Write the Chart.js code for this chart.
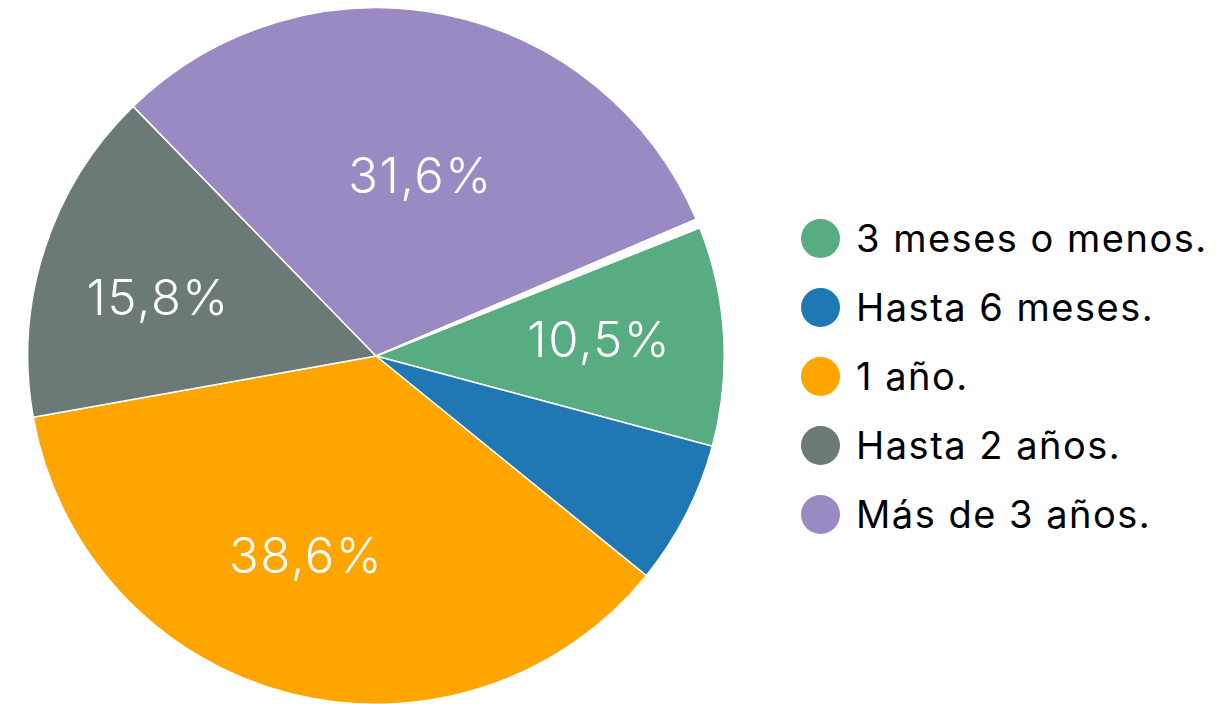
<!DOCTYPE html>
<html>
<head>
<meta charset="utf-8">
<script src="https://cdn.jsdelivr.net/npm/chart.js@4.4.1/dist/chart.umd.min.js"></script>
<style>
  html, body { margin: 0; padding: 0; background: #ffffff; }
  body { width: 1218px; height: 704px; position: relative; overflow: hidden; font-family: Inter, "Open Sans", sans-serif; }
  #wrap { position: absolute; left: 27px; top: 7px; width: 698px; height: 698px; }
  #legend { position: absolute; left: 801px; top: 0; margin: 0; padding: 0; list-style: none; }
  #legend li { position: absolute; left: 0; white-space: nowrap; display: flex; align-items: center; height: 40px; font-size: 38px; letter-spacing: 1.5px; color: #000; }
  #legend .dot { width: 39px; height: 39px; border-radius: 50%; display: inline-block; margin-right: 16px; flex: none; }
</style>
</head>
<body>
<div id="wrap"><canvas id="c"></canvas></div>
<ul id="legend"></ul>
<script>
// Categories shown in the legend
const categories = ['3 meses o menos.', 'Hasta 6 meses.', '1 año.', 'Hasta 2 años.', 'Más de 3 años.'];
// Slice shares (%) as measured from the slice angles in the picture
const sliceShares = [10.17, 6.69, 36.33, 15.53, 30.86];
// Thin empty wedge between the last and first slices (%)
const emptyShare = [0.42];
// Percentage texts printed on the slices
const sliceLabels = ['10,5%', '', '38,6%', '15,8%', '31,6%'];
const colors = ['#57ac81', '#1f77b4', '#ffa500', '#6c7a77', '#9a8ac3'];

const sliceTextPlugin = {
  id: 'sliceText',
  afterDatasetsDraw(chart, args, opts) {
    const ctx = chart.ctx;
    const meta = chart.getDatasetMeta(0);
    ctx.save();
    ctx.fillStyle = '#ffffff';
    ctx.font = '300 49px Inter, "Open Sans", sans-serif';
    if ('letterSpacing' in ctx) ctx.letterSpacing = '1.5px';
    ctx.textAlign = 'center';
    ctx.textBaseline = 'middle';
    meta.data.forEach((arc, i) => {
      const txt = sliceLabels[i];
      if (!txt) return;
      const p = arc.getProps(['x', 'y', 'startAngle', 'endAngle', 'outerRadius'], true);
      const mid = (p.startAngle + p.endAngle) / 2 + (opts.angleShift[i] || 0) * Math.PI / 180;
      const r = p.outerRadius * opts.radial[i];
      ctx.fillText(txt, p.x + Math.cos(mid) * r + 1, p.y + Math.sin(mid) * r + 2);
    });
    ctx.restore();
  }
};

new Chart(document.getElementById('c'), {
  type: 'pie',
  data: {
    labels: categories.concat(['']),
    datasets: [{
      data: sliceShares.concat(emptyShare),
      backgroundColor: colors.concat(['#ffffff']),
      borderColor: '#ffffff',
      borderWidth: 1.5
    }]
  },
  options: {
    responsive: true,
    maintainAspectRatio: false,
    animation: false,
    rotation: 68.4,
    layout: { padding: 0 },
    plugins: {
      legend: { display: false },
      tooltip: { enabled: false },
      sliceText: { radial: [0.64, 0.6, 0.61, 0.65, 0.53], angleShift: [-0.8, 0, 5, -3, 2.3] }
    }
  },
  plugins: [sliceTextPlugin]
});

const legend = document.getElementById('legend');
const rowTops = [218, 287, 356, 425, 494];
categories.forEach((name, i) => {
  const li = document.createElement('li');
  li.style.top = rowTops[i] + 'px';
  const dot = document.createElement('span');
  dot.className = 'dot';
  dot.style.background = colors[i];
  li.appendChild(dot);
  li.appendChild(document.createTextNode(name));
  legend.appendChild(li);
});
</script>
</body>
</html>
